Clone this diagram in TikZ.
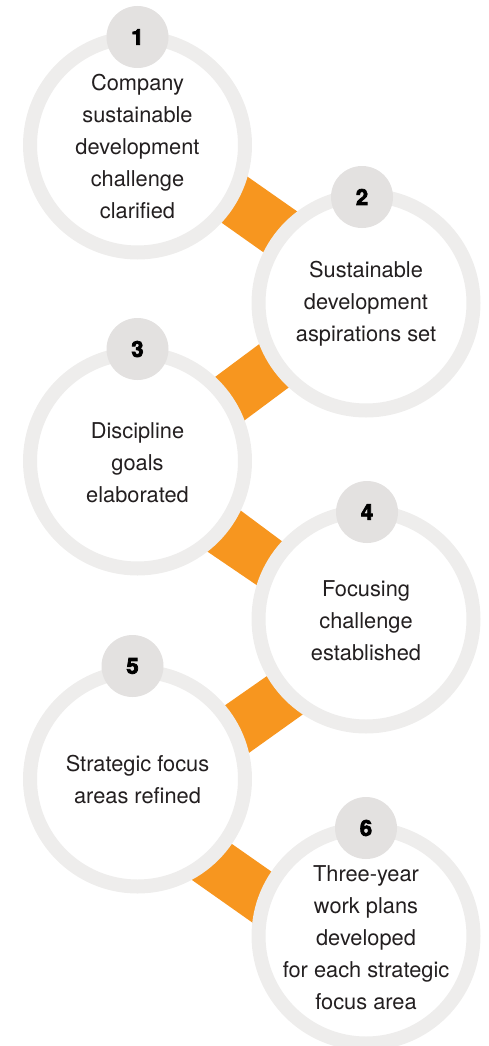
\documentclass[tikz,border=0pt]{standalone}
\usepackage{fontspec}
\setmainfont{TeX Gyre Heros}
\newfontfamily\numfont[FakeBold=3.5]{TeX Gyre Heros Bold}
\usetikzlibrary{calc}
\definecolor{ringgray}{HTML}{EEEDEC}
\definecolor{badgegray}{HTML}{E3E1E0}
\definecolor{bandorange}{HTML}{F7961F}
\definecolor{txtdark}{HTML}{231F20}
\newcommand\orangeband[4]{\fill[bandfill] ($(#1)!-40pt!(#2)$) -- ($(#2)!-40pt!(#1)$) -- ($(#4)!-40pt!(#3)$) -- ($(#3)!-40pt!(#4)$) -- cycle;}
\begin{document}
\begin{tikzpicture}[x=1pt,y=-1pt,
  ring/.style={circle,minimum size=215pt,inner sep=0pt,draw=ringgray,line width=14pt,fill=white},
  badge/.style={circle,minimum size=62pt,inner sep=0pt,fill=badgegray,font=\fontsize{22}{22}\selectfont\numfont,text=black},
  lbl/.style={align=center,text=txtdark,font=\fontsize{21.8}{32}\selectfont},
  bandfill/.style={fill=bandorange}]
\useasboundingbox (0,0) rectangle (488,1046);
% orange bands
\orangeband{248,177}{298,212}{222,223}{263,252}
\orangeband{258,345}{215,377}{288,388}{245,420}
\orangeband{240,510}{283,542}{208,552}{258,586}
\orangeband{267,676}{224,706}{302,715}{260,745}
\orangeband{232,844}{272,872}{192,880}{253,923}
% circles
\node[ring] (s1) at (137.5,145) {};
\node[ring] (s2) at (366,303) {};
\node[ring] (s3) at (137.5,461) {};
\node[ring] (s4) at (366,619) {};
\node[ring] (s5) at (137.5,779) {};
\node[ring] (s6) at (366,936) {};
% texts
\node[lbl] (t1) at ($(s1.center)+(0,2)$) {Company\\sustainable\\development\\challenge\\clarified};
\node[lbl] (t2) at ($(s2.center)+(0,1)$) {Sustainable\\development\\aspirations set};
\node[lbl] (t3) at ($(s3.center)+(0,2)$) {Discipline\\goals\\elaborated};
\node[lbl] (t4) at ($(s4.center)+(0,2)$) {Focusing\\challenge\\established};
\node[lbl] (t5) at ($(s5.center)+(0,1)$) {Strategic focus\\areas refined};
\node[lbl] (t6) at ($(s6.center)+(0,2)$) {Three-year\\work plans\\developed\\for each strategic\\focus area};
% badges
\node[badge] (b1) at ($(s1.center)+(0,-108)$) {1};
\node[badge] (b2) at ($(s2.center)+(-4,-106)$) {2};
\node[badge] (b3) at ($(s3.center)+(0,-112)$) {3};
\node[badge] (b4) at ($(s4.center)+(1,-107)$) {4};
\node[badge] (b5) at ($(s5.center)+(-5,-113)$) {5};
\node[badge] (b6) at ($(s6.center)+(0,-108)$) {6};
\end{tikzpicture}
\end{document}
